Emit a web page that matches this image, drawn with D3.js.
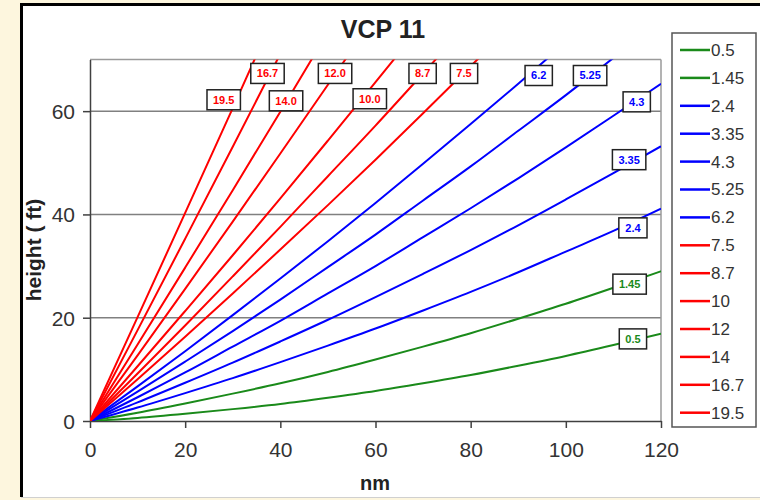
<!DOCTYPE html>
<html>
<head>
<meta charset="utf-8">
<script src="https://cdn.jsdelivr.net/npm/d3@7"></script>
<style>
body { margin: 0; background: #fdf6de; }
svg { display: block; }
</style>
</head>
<body>
<script>
// beam height (kft) every 10 nm, per elevation angle
var ranges = [0, 10, 20, 30, 40, 50, 60, 70, 80, 90, 100, 110, 120];

var h05  = [0, 0.6, 1.4, 2.3, 3.3, 4.5, 5.8, 7.3, 8.9, 10.7, 12.6, 14.7, 16.9];
var h145 = [0, 1.6, 3.4, 5.3, 7.3, 9.5, 11.9, 14.4, 17.0, 19.8, 22.7, 25.8, 29.0];
var h24  = [0, 2.6, 5.4, 8.3, 11.4, 14.6, 17.9, 21.4, 25.0, 28.8, 32.8, 36.8, 41.1];
var h335 = [0, 3.6, 7.4, 11.3, 15.4, 19.6, 24.0, 28.5, 33.1, 37.9, 42.9, 48.0, 53.2];
var h43  = [0, 4.6, 9.4, 14.4, 19.4, 24.7, 30.0, 35.6, 41.2, 47.0, 53.0, 59.1, 65.3];
var h525 = [0, 5.7, 11.5, 17.4, 23.5, 29.8, 36.1, 42.7, 49.3, 56.2, 63.1, 70.3, 77.5];
var h62  = [0, 6.7, 13.5, 20.5, 27.6, 34.8, 42.2, 49.8, 57.5, 65.3, 73.3];
var h75  = [0, 8.1, 16.3, 24.7, 33.2, 41.8, 50.6, 59.6, 68.7, 77.9];
var h87  = [0, 9.2, 18.5, 28.0, 37.6, 47.4, 57.2, 67.3, 77.5];
var h10  = [0, 10.6, 21.3, 32.1, 43.1, 54.3, 65.6, 77.0];
var h12  = [0, 12.7, 25.6, 38.6, 51.8, 65.1, 78.5];
var h14  = [0, 14.8, 29.7, 44.7, 59.9, 75.3];
var h167 = [0, 17.6, 35.3, 53.1, 71.1];
var h195 = [0, 20.1, 40.3, 60.6, 81.1];

var series = [h05, h145, h24, h335, h43, h525, h62, h75, h87, h10, h12, h14, h167, h195];
var legendNames = ["0.5", "1.45", "2.4", "3.35", "4.3", "5.25", "6.2", "7.5", "8.7", "10", "12", "14", "16.7", "19.5"];
var labelNames  = ["0.5", "1.45", "2.4", "3.35", "4.3", "5.25", "6.2", "7.5", "8.7", "10.0", "12.0", "14.0", "16.7", "19.5"];

// where each boxed label sits, in chart units (nm, kft)
var labelNm = [114.1, 113.4, 114.1, 113.3, 114.9, 105.1, 94.3, 78.6, 69.9, 58.8, 51.5, 41.2, 37.3, 28.1];
var labelFt = [15.9, 26.5, 37.4, 50.6, 61.8, 66.9, 66.9, 67.3, 67.3, 62.4, 67.3, 62.0, 67.3, 62.2];

var xTicks = [0, 20, 40, 60, 80, 100, 120];
var yTicks = [0, 20, 40, 60];

var width = 760, height = 500;

function colorOf(i) {
  if (i < 2) return "#1a8a1a";
  if (i < 7) return "#0000ff";
  return "#ff0000";
}

var x = d3.scaleLinear().domain([0, 120]).range([90, 661]);
var y = d3.scaleLinear().domain([0, 70]).range([421, 59.5]);

var svg = d3.select("body")
  .append("svg")
  .attr("width", width)
  .attr("height", height);

// page frame
svg.append("rect").attr("x", 0).attr("y", 0).attr("width", width).attr("height", height).attr("fill", "#fdf6de");
svg.append("rect").attr("x", 21).attr("y", 4).attr("width", width - 21).attr("height", 493).attr("fill", "#ffffff");
svg.append("line").attr("x1", 21.5).attr("x2", 21.5).attr("y1", 3).attr("y2", 497).attr("stroke", "#000").attr("stroke-width", 3);
svg.append("line").attr("x1", 20).attr("x2", width).attr("y1", 4.5).attr("y2", 4.5).attr("stroke", "#000").attr("stroke-width", 3);
svg.append("line").attr("x1", 21).attr("x2", width).attr("y1", 497.5).attr("y2", 497.5).attr("stroke", "#d0d0d0").attr("stroke-width", 1);

svg.append("defs").append("clipPath")
  .attr("id", "plotClip")
  .append("rect")
    .attr("x", x(0))
    .attr("y", y(70))
    .attr("width", x(120) - x(0))
    .attr("height", y(0) - y(70));

// grid and plot border
svg.selectAll(".grid")
  .data(yTicks.filter(function(d) { return d > 0; }))
  .enter()
  .append("line")
  .attr("class", "grid")
  .attr("x1", x(0)).attr("x2", x(120))
  .attr("y1", function(d) { return y(d); })
  .attr("y2", function(d) { return y(d); })
  .attr("stroke", "#808080")
  .attr("stroke-width", 1.5);

svg.append("line").attr("x1", x(0)).attr("x2", x(120)).attr("y1", y(70)).attr("y2", y(70)).attr("stroke", "#9a9a9a").attr("stroke-width", 1.5);
svg.append("line").attr("x1", x(120)).attr("x2", x(120)).attr("y1", y(70)).attr("y2", y(0)).attr("stroke", "#9a9a9a").attr("stroke-width", 1.5);

// axes
var xAxis = svg.append("g")
  .attr("transform", "translate(0," + y(0) + ")")
  .call(d3.axisBottom(x).tickValues(xTicks).tickSize(7).tickSizeOuter(0).tickPadding(14));

var yAxis = svg.append("g")
  .attr("transform", "translate(" + x(0) + ",0)")
  .call(d3.axisLeft(y).tickValues(yTicks).tickSize(7).tickSizeOuter(0).tickPadding(8));

[xAxis, yAxis].forEach(function(a) {
  a.select(".domain").attr("stroke", "#404040").attr("stroke-width", 1.5);
  a.selectAll(".tick line").attr("stroke", "#404040").attr("stroke-width", 1.5);
  a.selectAll(".tick text")
    .attr("fill", "#333")
    .style("font-family", "'Liberation Sans', Arial, sans-serif")
    .style("font-size", "21px");
});
yAxis.selectAll(".tick text").attr("dy", "0.35em");

// beam lines
var line = d3.line()
  .x(function(d, i) { return x(ranges[i]); })
  .y(function(d) { return y(d); })
  .curve(d3.curveMonotoneX);

svg.append("g")
  .attr("clip-path", "url(#plotClip)")
  .selectAll(".beam")
  .data(series)
  .enter()
  .append("path")
  .attr("class", "beam")
  .attr("d", line)
  .attr("fill", "none")
  .attr("stroke", function(d, i) { return colorOf(i); })
  .attr("stroke-width", 2);

// boxed labels
var labels = svg.selectAll(".lbl")
  .data(labelNames)
  .enter()
  .append("g")
  .attr("class", "lbl")
  .attr("transform", function(d, i) {
    return "translate(" + x(labelNm[i]) + "," + y(labelFt[i]) + ")";
  });

labels.append("text")
  .text(function(d) { return d; })
  .attr("text-anchor", "middle")
  .attr("dy", "0.35em")
  .attr("fill", function(d, i) { return colorOf(i); })
  .style("font-family", "'Liberation Sans', Arial, sans-serif")
  .style("font-size", "11px")
  .style("font-weight", "bold");

labels.insert("rect", "text")
  .each(function(d, i) {
    var w = this.parentNode.querySelector("text").getBBox().width + 12;
    d3.select(this)
      .attr("x", -w / 2)
      .attr("y", -10)
      .attr("width", w)
      .attr("height", 20);
  })
  .attr("fill", "#fff")
  .attr("stroke", "#222")
  .attr("stroke-width", 1.5);

// titles
svg.append("text")
  .text("VCP 11")
  .attr("x", 383).attr("y", 38)
  .attr("text-anchor", "middle")
  .attr("fill", "#222")
  .style("font-family", "'Liberation Sans', Arial, sans-serif")
  .style("font-size", "25px")
  .style("font-weight", "bold");

svg.append("text")
  .text("nm")
  .attr("x", 375).attr("y", 490)
  .attr("text-anchor", "middle")
  .attr("fill", "#222")
  .style("font-family", "'Liberation Sans', Arial, sans-serif")
  .style("font-size", "20px")
  .style("font-weight", "bold");

svg.append("text")
  .text("height ( ft)")
  .attr("transform", "translate(41,250) rotate(-90)")
  .attr("text-anchor", "middle")
  .attr("fill", "#222")
  .style("font-family", "'Liberation Sans', Arial, sans-serif")
  .style("font-size", "21px")
  .style("font-weight", "bold");

// legend
svg.append("rect")
  .attr("x", 672).attr("y", 33)
  .attr("width", 84).attr("height", 394)
  .attr("fill", "#fff")
  .attr("stroke", "#555")
  .attr("stroke-width", 1.5);

var legendItems = svg.selectAll(".leg")
  .data(legendNames)
  .enter()
  .append("g")
  .attr("class", "leg")
  .attr("transform", function(d, i) { return "translate(680," + (50 + i * 27.9) + ")"; });

legendItems.append("line")
  .attr("x1", 0).attr("x2", 30)
  .attr("stroke", function(d, i) { return colorOf(i); })
  .attr("stroke-width", 2.5);

legendItems.append("text")
  .text(function(d) { return d; })
  .attr("x", 31)
  .attr("dy", "0.35em")
  .attr("fill", "#333")
  .style("font-family", "'Liberation Sans', Arial, sans-serif")
  .style("font-size", "17px");
</script>
</body>
</html>
